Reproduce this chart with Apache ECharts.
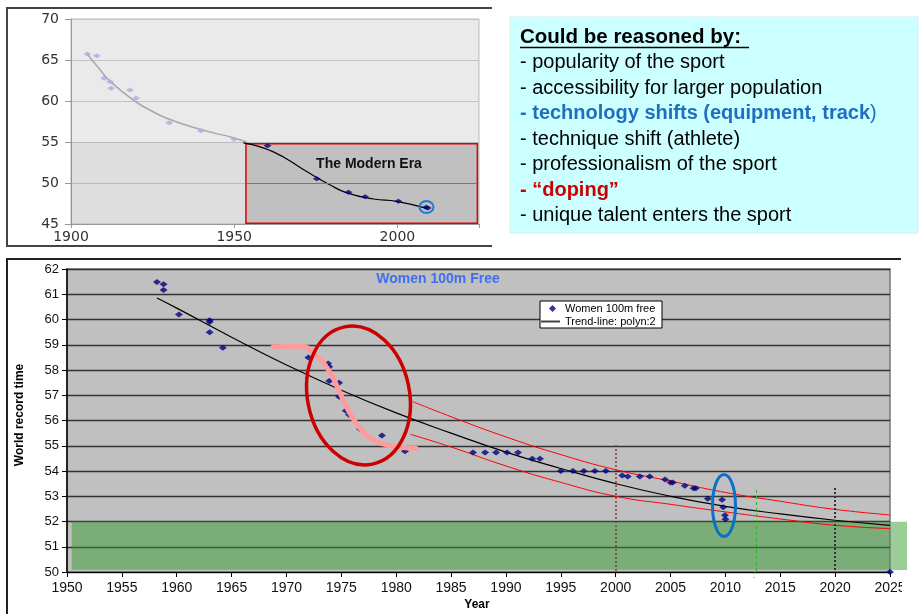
<!DOCTYPE html>
<html><head><meta charset="utf-8">
<script src="https://cdn.jsdelivr.net/npm/echarts@6/dist/echarts.min.js"></script>
<style>html,body{margin:0;padding:0;background:#fff}#c{width:921px;height:614px}</style>
</head><body><div id="c"></div>
<script>
// ---- Top chart: historical women 100m free records ----
const earlyYears = [1905, 1907.9, 1910.2, 1912, 1912.3, 1918.1, 1919.9, 1930.1, 1939.8, 1950];
const earlyTimes = [65.73, 65.53, 62.77, 62.36, 61.55, 61.34, 60.33, 57.35, 56.38, 55.33];
const earlyCurveYears = [1905, 1908.9, 1912, 1919.1, 1924.2, 1929.3, 1939.5, 1949.7, 1953.8];
const earlyCurveTimes = [65.73, 63.8, 62.4, 60.1, 58.9, 57.9, 56.55, 55.52, 55.0];
const modernYears = [1960.2, 1975.3, 1985.0, 1990.1, 2000.3, 2008.8, 2009.3];
const modernTimes = [54.55, 50.52, 48.87, 48.33, 47.77, 47.04, 46.95];
const modernCurveYears = [1952.8, 1962, 1972.2, 1979.4, 1984.5, 1992.7, 1999.8, 2009];
const modernCurveTimes = [54.9, 53.8, 51.4, 49.76, 48.8, 48.05, 47.77, 46.9];

// ---- Bottom chart: Women 100m Free ----
const wrYears = [1958.2, 1958.8, 1958.8, 1960.2, 1963.0, 1963.0, 1963.0, 1964.2, 1972.0, 1973.8,
  1973.9, 1973.9, 1974.8, 1974.8, 1975.4, 1975.7, 1976.7, 1978.7, 1980.8, 1987.0,
  1988.1, 1989.1, 1990.1, 1991.1, 1992.4, 1993.1, 1995.0, 1996.1, 1997.1, 1998.1,
  1999.1, 2000.6, 2001.1, 2002.2, 2003.1, 2004.5, 2005.0, 2005.2, 2006.3, 2007.1,
  2007.3, 2008.4, 2009.7, 2009.8, 2009.96, 2010.0, 2025];
const wrTimes = [61.49, 61.40, 61.17, 60.20, 59.97, 59.90, 59.50, 58.88, 58.50, 58.26,
  58.13, 57.56, 57.50, 56.94, 56.39, 56.23, 55.66, 55.41, 54.78, 54.73,
  54.73, 54.73, 54.73, 54.73, 54.49, 54.49, 54.00, 54.00, 54.00, 54.00,
  54.00, 53.82, 53.78, 53.78, 53.78, 53.66, 53.54, 53.54, 53.42, 53.32,
  53.32, 52.90, 52.86, 52.56, 52.25, 52.09, 50.0];
const trendYears = [1958.2, 1960, 1965, 1970, 1975, 1980, 1985, 1990, 1995, 2000, 2005, 2010, 2015, 2020, 2025];
const trendTimes = [60.85, 60.45, 59.3, 58.2, 57.2, 56.3, 55.5, 54.75, 54.1, 53.5, 53.0, 52.6, 52.3, 52.05, 51.85];
const upperYears = [1981.5, 1985, 1990, 1995, 2000, 2005, 2010, 2015, 2020, 2025];
const upperTimes = [56.75, 56.15, 55.35, 54.65, 54.05, 53.6, 53.15, 52.8, 52.48, 52.26];
const lowerYears = [1981.3, 1985, 1990, 1995, 2000, 2005, 2010, 2015, 2020, 2025];
const lowerTimes = [55.45, 54.95, 54.2, 53.55, 53.0, 52.68, 52.38, 52.1, 51.85, 51.72];
const pinkYears = [1968.8, 1971.3, 1972.8, 1974.0, 1974.9, 1975.8, 1977.1, 1978.6, 1980.4, 1981.8];
const pinkTimes = [58.92, 58.94, 58.52, 57.87, 57.07, 56.28, 55.5, 55.1, 54.94, 54.9];

const reasons = [
  {t: '- popularity of the sport', c: '#000', b: 'normal'},
  {t: '- accessibility for larger population', c: '#000', b: 'normal'},
  {t: '- technology shifts (equipment, track', c: '#1F6FBF', b: 'bold', tail: ')'},
  {t: '- technique shift (athlete)', c: '#000', b: 'normal'},
  {t: '- professionalism of the sport', c: '#000', b: 'normal'},
  {t: '- \u201Cdoping\u201D', c: '#CC0000', b: 'bold'},
  {t: '- unique talent enters the sport', c: '#000', b: 'normal'}
];

const pairs = (xs, ys) => xs.map((x, i) => [x, ys[i]]);
const F = 'Liberation Sans, Arial, sans-serif';

const chart = echarts.init(document.getElementById('c'), null, {renderer: 'canvas'});

const graphics = [];
// top chart frame
graphics.push({type: 'polyline', shape: {points: [[492, 8], [7, 8], [7, 246], [492, 246]]}, style: {stroke: '#444', lineWidth: 2, fill: null}, z: 1});
// bottom chart frame
graphics.push({type: 'polyline', shape: {points: [[901, 259], [7, 259], [7, 614]]}, style: {stroke: '#222', lineWidth: 2, fill: null}, z: 1});
// text box
graphics.push({type: 'rect', shape: {x: 510, y: 17, width: 408, height: 216}, style: {fill: '#CCFFFF', stroke: '#D5EEEE', lineWidth: 1}, z: 1});
graphics.push({type: 'text', x: 520, y: 37, style: {text: 'Could be reasoned by:', font: 'bold 20.5px ' + F, fill: '#000', textVerticalAlign: 'middle'}, z: 2});
graphics.push({type: 'line', shape: {x1: 520, y1: 47.5, x2: 749, y2: 47.5}, style: {stroke: '#000', lineWidth: 1.5}, z: 2});
reasons.forEach((r, i) => {
  graphics.push({type: 'text', x: 520, y: 62.5 + i * 25.5, style: {
    text: r.tail ? '{a|' + r.t + '}{b|' + r.tail + '}' : r.t,
    font: r.b + ' 20px ' + F, fill: r.c, textVerticalAlign: 'middle',
    rich: r.tail ? {a: {fontFamily: F, fontSize: 20, fontWeight: 'bold', color: r.c}, b: {fontFamily: F, fontSize: 20, fontWeight: 'normal', color: '#A8B0D0'}} : undefined
  }, z: 2});
});
// top chart annotations
graphics.push({type: 'text', x: 369, y: 164, style: {text: 'The Modern Era', font: 'bold 14px ' + F, fill: '#111', textAlign: 'center', textVerticalAlign: 'middle'}, z: 20});
graphics.push({type: 'ellipse', shape: {cx: 426.5, cy: 207, rx: 7, ry: 6}, style: {stroke: '#1F7BD0', lineWidth: 2, fill: null}, z: 20});
// bottom chart annotations
graphics.push({type: 'text', x: 438, y: 279, style: {text: 'Women 100m Free', font: 'bold 14px ' + F, fill: '#3F6FEF', textAlign: 'center', textVerticalAlign: 'middle'}, z: 20});
graphics.push({type: 'rect', shape: {x: 540, y: 301, width: 122, height: 27}, style: {fill: '#fff', stroke: '#000', lineWidth: 1}, z: 15});
graphics.push({type: 'ellipse', x: 358.5, y: 395.5, rotation: 0.2, shape: {cx: 0, cy: 0, rx: 51, ry: 70}, style: {stroke: '#CC0000', lineWidth: 3.5, fill: null}, z: 20});
graphics.push({type: 'ellipse', shape: {cx: 724, cy: 505.5, rx: 11.5, ry: 31}, style: {stroke: '#0A72C8', lineWidth: 3, fill: null}, z: 20});
graphics.push({type: 'rect', shape: {x: 890.5, y: 521.7, width: 16.5, height: 48.3}, style: {fill: 'rgba(49,153,43,0.49)'}, z: 2});
graphics.push({type: 'line', shape: {x1: 754.3, y1: 571, x2: 754.3, y2: 578}, style: {stroke: '#33AA33', lineWidth: 1, lineDash: [3, 3]}, z: 20});
graphics.push({type: 'text', x: 20, y: 415, rotation: Math.PI / 2, style: {text: 'World record time', font: 'bold 12px ' + F, fill: '#000', textAlign: 'center', textVerticalAlign: 'middle'}, z: 20});
graphics.push({type: 'text', x: 477, y: 605, style: {text: 'Year', font: 'bold 12px ' + F, fill: '#000', textAlign: 'center', textVerticalAlign: 'middle'}, z: 20});
graphics.push({type: 'rect', shape: {x: 902, y: 576, width: 19, height: 38}, style: {fill: '#fff'}, z: 30});

const option = {
  animation: false,
  backgroundColor: '#fff',
  grid: [
    {left: 71, top: 19, width: 408, height: 205, show: true, backgroundColor: '#EAEAEA', borderColor: '#BBBBBB', borderWidth: 1},
    {left: 67, top: 269, width: 823, height: 303, show: true, backgroundColor: '#C0C0C0', borderColor: '#777', borderWidth: 1.5}
  ],
  xAxis: [
    {gridIndex: 0, type: 'value', min: 1900, max: 2025, interval: 50,
      axisLine: {lineStyle: {color: '#999'}}, axisTick: {length: 4, lineStyle: {color: '#999'}},
      splitLine: {show: false},
      axisLabel: {color: '#333', fontFamily: 'DejaVu Sans', fontSize: 14, margin: 6, formatter: v => (v % 50 === 0 ? String(v) : '')}},
    {gridIndex: 1, type: 'value', min: 1950, max: 2025, interval: 5,
      axisLine: {lineStyle: {color: '#000', width: 1}}, axisTick: {length: 5, lineStyle: {color: '#000'}},
      splitLine: {show: false},
      axisLabel: {color: '#111', fontFamily: F, fontSize: 14, margin: 9, formatter: v => String(v)}}
  ],
  yAxis: [
    {gridIndex: 0, type: 'value', min: 45, max: 70, interval: 5,
      axisLine: {show: true, lineStyle: {color: '#999'}}, axisTick: {show: true, length: 6, lineStyle: {color: '#999'}},
      splitLine: {lineStyle: {color: '#C4C4C4', width: 1}},
      axisLabel: {color: '#333', fontFamily: 'DejaVu Sans', fontSize: 14, margin: 12}},
    {gridIndex: 1, type: 'value', min: 50, max: 62, interval: 1,
      axisLine: {show: true, lineStyle: {color: '#000', width: 1.5}}, axisTick: {show: true, length: 5, lineStyle: {color: '#000'}},
      splitLine: {lineStyle: {color: '#333', width: 1.4}},
      axisLabel: {color: '#111', fontFamily: F, fontSize: 13, margin: 8}}
  ],
  legend: [
    {data: ['Women 100m free'], left: 549, top: 303, itemWidth: 7, itemHeight: 7, padding: 0,
      textStyle: {fontFamily: F, fontSize: 11, color: '#000', padding: [0, 0, 0, 4]}, z: 16},
    {data: [{name: 'Trend-line: polyn:2', icon: 'rect'}], left: 541, top: 316, itemWidth: 19, itemHeight: 2, padding: 0,
      textStyle: {fontFamily: F, fontSize: 11, color: '#000'}, z: 16}
  ],
  series: [
    // top chart backgrounds
    {type: 'line', xAxisIndex: 0, yAxisIndex: 0, data: [], silent: true,
      markArea: {silent: true, data: [
        [{coord: [1900, 45], itemStyle: {color: 'rgba(0,0,0,0.05)'}}, {coord: [2025, 55]}],
        [{coord: [1953.6, 45.1], itemStyle: {color: 'rgba(0,0,0,0.135)', borderColor: '#E00000', borderWidth: 1.5}}, {coord: [2024.5, 54.8]}]
      ]},
      markLine: {silent: true, symbol: ['none', 'none'], label: {show: false}, lineStyle: {color: '#777', type: 'solid', width: 1},
        data: [[{coord: [1953.8, 50]}, {coord: [2024.3, 50]}]]}},
    {name: 'early curve', type: 'line', xAxisIndex: 0, yAxisIndex: 0, smooth: true, showSymbol: false,
      lineStyle: {color: '#A8A8A8', width: 1.5}, data: pairs(earlyCurveYears, earlyCurveTimes), z: 3},
    {name: 'early', type: 'scatter', xAxisIndex: 0, yAxisIndex: 0, symbol: 'diamond', symbolSize: [8, 5],
      itemStyle: {color: '#ABABDD'}, data: pairs(earlyYears, earlyTimes), z: 4},
    {name: 'modern curve', type: 'line', xAxisIndex: 0, yAxisIndex: 0, smooth: true, showSymbol: false,
      lineStyle: {color: '#000', width: 1.2}, data: pairs(modernCurveYears, modernCurveTimes), z: 3},
    {name: 'modern', type: 'scatter', xAxisIndex: 0, yAxisIndex: 0, symbol: 'diamond', symbolSize: [8, 5],
      itemStyle: {color: '#000080'}, data: pairs(modernYears, modernTimes), z: 4},

    // bottom chart
    {type: 'line', xAxisIndex: 1, yAxisIndex: 1, data: [], silent: true, clip: false,
      markArea: {silent: true, data: [
        [{coord: [1950.43, 50.09], itemStyle: {color: 'rgba(49,153,43,0.49)'}}, {coord: [2025, 52]}]
      ]},
      markLine: {silent: true, symbol: ['none', 'none'], label: {show: false}, data: [
        [{coord: [2000, 55.03], lineStyle: {color: '#8B3A3A', type: [2, 2], width: 1.5}}, {coord: [2000, 50]}],
        [{coord: [2012.8, 53.25], lineStyle: {color: '#33AA33', type: [3, 3], width: 1}}, {coord: [2012.8, 50]}],
        [{coord: [2020, 53.33], lineStyle: {color: '#333', type: [2, 2], width: 2}}, {coord: [2020, 50]}]
      ]}},
    {name: 'upper', type: 'line', xAxisIndex: 1, yAxisIndex: 1, smooth: true, showSymbol: false,
      lineStyle: {color: '#FF0000', width: 1}, data: pairs(upperYears, upperTimes), z: 3},
    {name: 'lower', type: 'line', xAxisIndex: 1, yAxisIndex: 1, smooth: true, showSymbol: false,
      lineStyle: {color: '#FF0000', width: 1}, data: pairs(lowerYears, lowerTimes), z: 3},
    {name: 'Trend-line: polyn:2', type: 'line', xAxisIndex: 1, yAxisIndex: 1, smooth: true, showSymbol: false, symbol: 'none',
      lineStyle: {color: '#000', width: 1.2}, itemStyle: {color: '#444'}, data: pairs(trendYears, trendTimes), z: 3},
    {name: 'Women 100m free', type: 'scatter', xAxisIndex: 1, yAxisIndex: 1, symbol: 'diamond', symbolSize: [8, 6],
      itemStyle: {color: '#000080'}, data: pairs(wrYears, wrTimes), z: 4, clip: false},
    {name: 'pink', type: 'line', xAxisIndex: 1, yAxisIndex: 1, smooth: true, showSymbol: false,
      lineStyle: {color: '#FF9B9B', width: 5, cap: 'round'}, data: pairs(pinkYears, pinkTimes), z: 5}
  ],
  graphic: graphics
};
chart.setOption(option);
</script>
</body></html>
